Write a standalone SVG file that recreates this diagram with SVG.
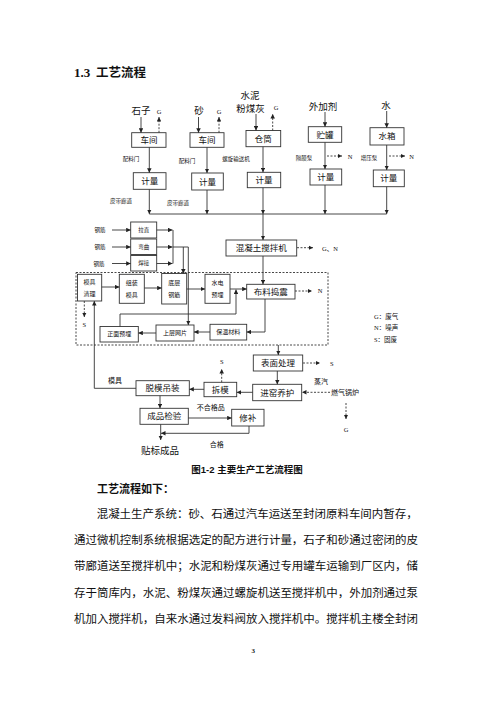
<svg xmlns="http://www.w3.org/2000/svg" width="493" height="702" viewBox="0 0 493 702">
<style>
text{font-family:"Liberation Sans","Noto Sans CJK SC",sans-serif;fill:#111;dominant-baseline:central;text-anchor:middle}
.box{fill:#fff;stroke:#333;stroke-width:0.9}
.ln{fill:none;stroke:#333;stroke-width:0.9}
.dl{fill:none;stroke:#333;stroke-width:0.9;stroke-dasharray:2,1.5}
.t9{font-size:9.5px}
.t8{font-size:8.5px}
.t6{font-size:6px}
.t55{font-size:5.5px}
.t7{font-size:7px}
.lt{font-family:"Liberation Serif","Noto Sans CJK SC",serif;font-size:6.5px}
.body{font-family:"Liberation Serif","Noto Sans CJK SC",serif;font-size:11.5px;text-anchor:start}
</style>
<defs>
<marker id="a" viewBox="0 0 6 6" refX="6" refY="3" markerWidth="4.5" markerHeight="4.5" markerUnits="userSpaceOnUse" orient="auto"><path d="M0,0 L6,3 L0,6 z" fill="#222"/></marker>
</defs>
<rect width="493" height="702" fill="#fff"/>

<g id="title">
<text x="74" y="72.5" style="font-family:'Liberation Serif',serif;font-weight:bold;font-size:13px;text-anchor:start">1.3</text>
<text x="96" y="72.5" style="font-weight:bold;font-size:12.5px;text-anchor:start">工艺流程</text>
</g>

<g id="inputs">
<text class="t9" x="141" y="110.7">石子</text>
<text class="lt" x="159" y="111">G</text>
<text class="t9" x="199" y="110.7">砂</text>
<text class="lt" x="219" y="111">G</text>
<text class="t9" x="250" y="95.7">水泥</text>
<text class="t9" x="250.5" y="108">粉煤灰</text>
<text class="lt" x="276" y="107.7">G</text>
<text class="t9" x="323" y="106.7">外加剂</text>
<text class="t9" x="386" y="105.7">水</text>
</g>

<g id="n_cj1"><rect class="box" x="131.7" y="132.7" width="34.3" height="14.6"/><text class="t8" x="148.9" y="140">车间</text></g>
<g id="n_cj2"><rect class="box" x="190" y="132.7" width="34" height="14.6"/><text class="t8" x="207" y="140">车间</text></g>
<g id="n_ct"><rect class="box" x="246" y="130.5" width="34.7" height="16.2"/><text class="t8" x="263.3" y="138.6">仓筒</text></g>
<g id="n_zg"><rect class="box" x="308.3" y="126.7" width="33.4" height="15.6"/><text class="t8" x="325" y="134.5">贮罐</text></g>
<g id="n_sx"><rect class="box" x="370" y="127.7" width="34" height="17.3"/><text class="t8" x="387" y="136.3">水箱</text></g>

<g id="n_jl1"><rect class="box" x="133.3" y="172.7" width="32.7" height="16.6"/><text class="t8" x="149.7" y="181">计量</text></g>
<g id="n_jl2"><rect class="box" x="191.7" y="173" width="31.6" height="17"/><text class="t8" x="207.5" y="181.5">计量</text></g>
<g id="n_jl3"><rect class="box" x="247.3" y="172.3" width="33.4" height="15.4"/><text class="t8" x="264" y="180">计量</text></g>
<g id="n_jl4"><rect class="box" x="310" y="169" width="31.7" height="16"/><text class="t8" x="325.8" y="177">计量</text></g>
<g id="n_jl5"><rect class="box" x="373.3" y="170" width="31" height="16.7"/><text class="t8" x="388.8" y="178.3">计量</text></g>

<g id="n_mixer"><rect class="box" x="226" y="240" width="70.7" height="16"/><text class="t8" x="261.3" y="248">混凝土搅拌机</text></g>

<g id="n_lz"><rect class="box" x="130.7" y="222" width="26" height="16"/><text class="t55" x="143.7" y="230">拉直</text></g>
<g id="n_wq"><rect class="box" x="130.7" y="239" width="26" height="15.5"/><text class="t55" x="143.7" y="246.8">弯曲</text></g>
<g id="n_hj"><rect class="box" x="130.7" y="255.5" width="26" height="15.5"/><text class="t55" x="143.7" y="263.3">焊接</text></g>

<g id="group_frame"><rect class="dl" x="76" y="272.5" width="252" height="72.5"/></g>

<g id="n_mjql"><rect class="box" x="77.5" y="274.3" width="24.2" height="26.7"/><text class="t6" x="89.6" y="282">模具</text><text class="t6" x="89.6" y="294">清理</text></g>
<g id="n_zzmj"><rect class="box" x="119.3" y="274.3" width="25" height="29"/><text class="t6" x="131.8" y="283">组装</text><text class="t6" x="131.8" y="295">模具</text></g>
<g id="n_dcgj"><rect class="box" x="161.7" y="273.5" width="25" height="30.5"/><text class="t6" x="174.2" y="283">底层</text><text class="t6" x="174.2" y="295">钢筋</text></g>
<g id="n_sdym"><rect class="box" x="205" y="274.3" width="25" height="29"/><text class="t6" x="217.5" y="283">水电</text><text class="t6" x="217.5" y="295">预埋</text></g>
<g id="n_blzd"><rect class="box" x="246.7" y="284.3" width="48.3" height="14.7"/><text class="t8" x="270.8" y="291.6">布料捣震</text></g>
<g id="n_zmym"><rect class="box" x="100" y="326.5" width="38.3" height="15.5"/><text class="t6" x="119.2" y="334.3">正面预埋</text></g>
<g id="n_scwp"><rect class="box" x="156" y="325" width="38" height="16"/><text class="t6" x="175" y="333">上层网片</text></g>
<g id="n_bwcl"><rect class="box" x="210" y="324.3" width="36.7" height="15.7"/><text class="t6" x="228.3" y="332.2">保温材料</text></g>

<g id="n_bmcl"><rect class="box" x="253.3" y="355" width="49.4" height="16"/><text class="t8" x="278" y="363">表面处理</text></g>
<g id="n_jyyh"><rect class="box" x="252.7" y="384.3" width="49" height="16.4"/><text class="t8" x="277.2" y="392.5">进窑养护</text></g>
<g id="n_cm"><rect class="box" x="204" y="382.3" width="32.7" height="14.4"/><text class="t8" x="220.3" y="389.5">拆模</text></g>
<g id="n_tmdz"><rect class="box" x="136" y="380.7" width="53.3" height="15"/><text class="t8" x="162.6" y="388.2">脱模吊装</text></g>
<g id="n_cpjy"><rect class="box" x="140" y="408.3" width="48.3" height="16"/><text class="t8" x="164.2" y="416.3">成品检验</text></g>
<g id="n_xb"><rect class="box" x="231.7" y="409.3" width="32.3" height="16.7"/><text class="t8" x="247.8" y="417.7">修补</text></g>
<g id="n_tbcp"><text class="t9" x="160" y="450.7">贴标成品</text></g>

<g id="connectors">
<path class="ln" d="M141,117 V132.7" marker-end="url(#a)"/>
<path class="dl" d="M159,132.7 V117" marker-end="url(#a)"/>
<path class="ln" d="M149.3,147.3 V172.7" marker-end="url(#a)"/>
<path class="ln" d="M198.5,117 V132.7" marker-end="url(#a)"/>
<path class="dl" d="M219,132.7 V117" marker-end="url(#a)"/>
<path class="ln" d="M207,147.3 V173" marker-end="url(#a)"/>
<path class="ln" d="M256,114 V130.5" marker-end="url(#a)"/>
<path class="dl" d="M272.7,130.5 V114" marker-end="url(#a)"/>
<path class="ln" d="M263,146.7 V172.3" marker-end="url(#a)"/>
<path class="ln" d="M325,112 V126.7" marker-end="url(#a)"/>
<path class="ln" d="M325,142.3 V169" marker-end="url(#a)"/>
<path class="dl" d="M327,156 H342" marker-end="url(#a)"/>
<path class="ln" d="M386.7,111 V127.7" marker-end="url(#a)"/>
<path class="ln" d="M386.7,145 V170" marker-end="url(#a)"/>
<path class="dl" d="M389,156 H405" marker-end="url(#a)"/>
<path class="ln" d="M149.3,189.3 V214" marker-end="url(#a)"/>
<path class="ln" d="M207,190 V214" marker-end="url(#a)"/>
<path class="ln" d="M263,187.7 V214" marker-end="url(#a)"/>
<path class="ln" d="M325,185 V214" marker-end="url(#a)"/>
<path class="ln" d="M386.7,186.7 V214" marker-end="url(#a)"/>
<path class="ln" d="M149.3,214 H386.7"/>
<path class="ln" d="M263,214 V240" marker-end="url(#a)"/>
<path class="dl" d="M297,247.7 H313" marker-end="url(#a)"/>
<path class="ln" d="M263,256 V284.3" marker-end="url(#a)"/>
<path class="ln" d="M112,230 H130.7" marker-end="url(#a)"/>
<path class="ln" d="M112,247 H130.7" marker-end="url(#a)"/>
<path class="ln" d="M112,263.5 H130.7" marker-end="url(#a)"/>
<path class="ln" d="M156.7,230 H172.5" marker-end="url(#a)"/>
<path class="ln" d="M156.7,247 H172.5" marker-end="url(#a)"/>
<path class="ln" d="M156.7,263.5 H172.5" marker-end="url(#a)"/>
<path class="ln" d="M173,230 V263.5"/>
<path class="ln" d="M173,247 H188.3"/>
<path class="ln" d="M183.3,247 V273.5" marker-end="url(#a)"/>
<path class="ln" d="M188.3,247 V325" marker-end="url(#a)"/>
<path class="ln" d="M101.7,287 H119.3" marker-end="url(#a)"/>
<path class="ln" d="M144.3,288 H161.7" marker-end="url(#a)"/>
<path class="ln" d="M186.7,289 H205" marker-end="url(#a)"/>
<path class="ln" d="M230,289 H246.7" marker-end="url(#a)"/>
<path class="ln" d="M120,326.5 V314 H236 V289.5" marker-end="url(#a)"/>
<path class="dl" d="M295,291 H312" marker-end="url(#a)"/>
<path class="ln" d="M265,299 V332 H246.7" marker-end="url(#a)"/>
<path class="ln" d="M210,332 H194" marker-end="url(#a)"/>
<path class="ln" d="M156,333 H138.3" marker-end="url(#a)"/>
<path class="dl" d="M84.3,301 V317" marker-end="url(#a)"/>
<path class="ln" d="M136,388.3 H94.3 V301" marker-end="url(#a)"/>
<path class="ln" d="M278.3,345 V355" marker-end="url(#a)"/>
<path class="dl" d="M303,363 H320" marker-end="url(#a)"/>
<path class="ln" d="M277.3,371 V384.3" marker-end="url(#a)"/>
<path class="ln" d="M252.7,392.3 H236.7" marker-end="url(#a)"/>
<path class="dl" d="M330,392.3 H302" marker-end="url(#a)"/>
<path class="dl" d="M346,403 V419" marker-end="url(#a)"/>
<path class="dl" d="M221.7,382.3 V369" marker-end="url(#a)"/>
<path class="ln" d="M204,389.3 H189.3" marker-end="url(#a)"/>
<path class="ln" d="M160,395.7 V408.3" marker-end="url(#a)"/>
<path class="ln" d="M188.3,418 H231.7" marker-end="url(#a)"/>
<path class="ln" d="M249,426 V433.3 H161" marker-end="url(#a)"/>
<path class="ln" d="M160.7,424.3 V440" marker-end="url(#a)"/>
</g>

<g id="labels">
<text class="t55" x="131" y="159.3">配料门</text>
<text class="t55" x="187" y="160.5">配料门</text>
<text class="t55" x="236" y="159.3">螺旋输送机</text>
<text class="t55" x="304" y="157.7">隔膜泵</text>
<text class="lt" x="350" y="156">N</text>
<text class="t55" x="369" y="157.5">增压泵</text>
<text class="lt" x="411.7" y="156">N</text>
<text class="t55" x="121" y="200.7">皮带廊道</text>
<text class="t55" x="178" y="202.5">皮带廊道</text>
<text class="t55" x="100" y="230">钢筋</text>
<text class="t55" x="100" y="247">钢筋</text>
<text class="t55" x="99" y="263.5">钢筋</text>
<text class="lt" x="330" y="248">G、N</text>
<text class="lt" x="320" y="290.7">N</text>
<text class="lt" x="84.3" y="324">S</text>
<text class="t7" x="115" y="380.7">模具</text>
<text class="lt" x="221.7" y="361">S</text>
<text class="lt" x="331.7" y="363.3">S</text>
<text class="t7" x="321" y="381.7">蒸汽</text>
<text class="t7" x="345" y="392.3">燃气锅炉</text>
<text class="lt" x="346" y="429.3">G</text>
<text class="t7" x="210.7" y="407.7">不合格品</text>
<text class="t7" x="216.7" y="444.3">合格</text>
</g>

<g id="legend">
<text class="lt" x="374" y="316" style="text-anchor:start">G：废气</text>
<text class="lt" x="374" y="327.5" style="text-anchor:start">N：噪声</text>
<text class="lt" x="374" y="339" style="text-anchor:start">S：固废</text>
</g>

<g id="caption">
<text x="247" y="469.3" style="font-weight:bold;font-size:9.5px">图1-2  主要生产工艺流程图</text>
<text x="97" y="489.3" style="font-weight:bold;font-size:11px;text-anchor:start">工艺流程如下：</text>
</g>

<g id="body">
<text class="body" x="96.7" y="514" textLength="321" lengthAdjust="spacingAndGlyphs">混凝土生产系统：砂、石通过汽车运送至封闭原料车间内暂存，</text>
<text class="body" x="74" y="540" textLength="344" lengthAdjust="spacingAndGlyphs">通过微机控制系统根据选定的配方进行计量，石子和砂通过密闭的皮</text>
<text class="body" x="74" y="566" textLength="344" lengthAdjust="spacingAndGlyphs">带廊道送至搅拌机中；水泥和粉煤灰通过专用罐车运输到厂区内，储</text>
<text class="body" x="74" y="593" textLength="344" lengthAdjust="spacingAndGlyphs">存于筒库内，水泥、粉煤灰通过螺旋机送至搅拌机中，外加剂通过泵</text>
<text class="body" x="74" y="619" textLength="344" lengthAdjust="spacingAndGlyphs">机加入搅拌机，自来水通过发料阀放入搅拌机中。搅拌机主楼全封闭</text>
<text x="253.3" y="651" style="font-family:'Liberation Serif',serif;font-weight:bold;font-size:7px">3</text>
</g>
</svg>
